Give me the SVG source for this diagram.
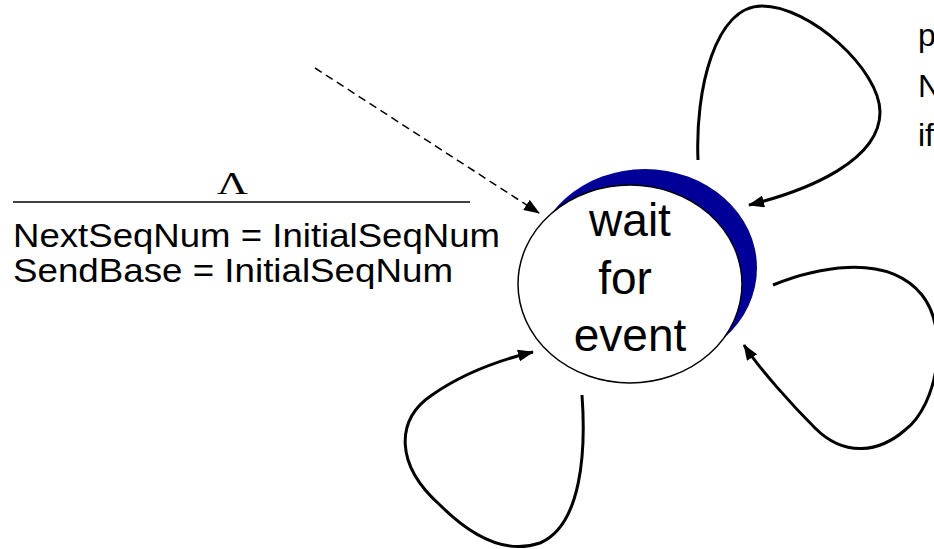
<svg xmlns="http://www.w3.org/2000/svg" width="934" height="549" viewBox="0 0 934 549">
<style>
.t{font-family:"Liberation Sans",Arial,sans-serif;fill:#000}
.c{fill:none;stroke:#000;stroke-width:3}
</style>
<defs>
<marker id="ah" markerWidth="16" markerHeight="12" refX="15" refY="6" orient="auto" markerUnits="userSpaceOnUse">
<path d="M0,0 L16,6 L0,12 Z" fill="#000"/>
</marker>
</defs>
<rect width="934" height="549" fill="#fff"/>
<g id="init-label">
<text x="217" y="194" font-family="'Liberation Serif','Times New Roman',serif" font-size="31" textLength="31" lengthAdjust="spacingAndGlyphs">Λ</text>
<line x1="13" y1="202" x2="470" y2="202" stroke="#000" stroke-width="1.5"/>
<text class="t" x="13" y="247" font-size="33" textLength="487" lengthAdjust="spacingAndGlyphs">NextSeqNum = InitialSeqNum</text>
<text class="t" x="13" y="282" font-size="33" textLength="440" lengthAdjust="spacingAndGlyphs">SendBase = InitialSeqNum</text>
</g>
<g id="wait-for-event">
<ellipse cx="645" cy="268" rx="112" ry="99" fill="#000099"/>
<ellipse cx="630" cy="284" rx="112" ry="99" fill="#fff" stroke="#000" stroke-width="1.5"/>
<text class="t" font-size="46" text-anchor="middle"><tspan x="630" y="236">wait</tspan><tspan x="625" y="294">for</tspan><tspan x="630" y="351">event</tspan></text>
</g>
<g id="right-label">
<text class="t" x="918" y="46" font-size="32">p</text>
<text class="t" x="918" y="97" font-size="32">N</text>
<text class="t" x="918" y="146" font-size="32">if</text>
</g>
<g id="connectors">
<line x1="315" y1="68" x2="539" y2="213" stroke="#000" stroke-width="1.5" stroke-dasharray="8,5" marker-end="url(#ah)"/>
<path class="c" stroke-width="2.5" d="M698,160 C695,90 715,6 762,6 C810,6 880,70 880,112 C880,160 810,190 749,205" marker-end="url(#ah)"/>
<path class="c" d="M773,285 C810,270 885,250 922,295 C950,330 938,405 905,430 C880,452 845,458 815,428 C795,408 760,370 744,345" marker-end="url(#ah)"/>
<path class="c" d="M582,395 C586,450 582,525 540,543 C505,555 470,535 440,505 C395,465 395,420 432,395 C465,372 500,360 533,352" marker-end="url(#ah)"/>
</g>
</svg>
